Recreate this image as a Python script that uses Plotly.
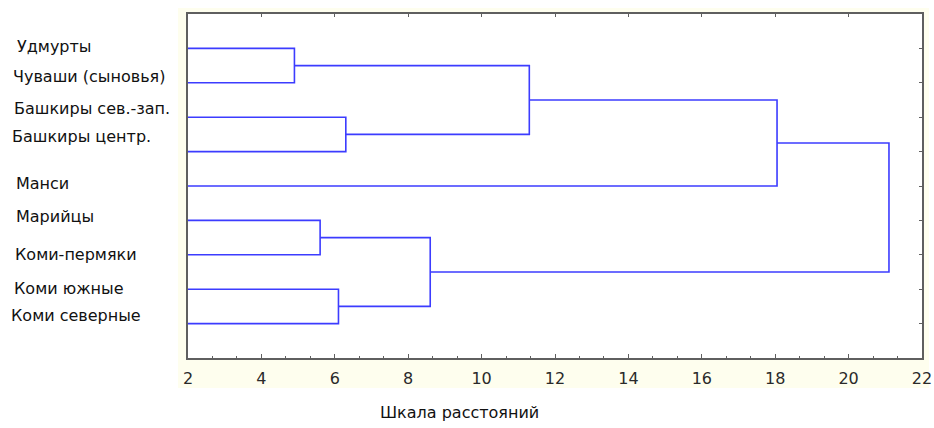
import plotly.graph_objects as go

# ---------------- data ----------------
leaf_labels = [
    "Удмурты",
    "Чуваши (сыновья)",
    "Башкиры сев.-зап.",
    "Башкиры центр.",
    "Манси",
    "Марийцы",
    "Коми-пермяки",
    "Коми южные",
    "Коми северные",
]
# clusters 0..8 are leaves; each merge creates cluster 9, 10, ...
merge_left = [0, 2, 9, 11, 5, 7, 13, 12]
merge_right = [1, 3, 10, 4, 6, 8, 14, 15]
merge_dist = [4.9, 6.3, 11.3, 18.05, 5.6, 6.1, 8.6, 21.1]

x_title = "Шкала расстояний"
x_ticks = [2, 4, 6, 8, 10, 12, 14, 16, 18, 20, 22]

# ---------------- layout / style ----------------
X_MIN, X_MAX = 2, 22
n = len(leaf_labels)
Y_RANGE = [n + 1, 0]
W, H = 934, 428
L, T = 188, 14
R = W - 922
B = H - 358
plot_w = W - L - R
plot_h = H - T - B
LINE_COLOR = "#3c3cff"
FRAME = "#5f5f5f"
FONT = "DejaVu Sans"

# label pixel placement (left edge x in px, vertical shift)
label_x = [15, 11, 12, 10, 14, 14, 13, 12, 9]
label_shift = [2, 6, 9, 15, 3, 4, 0, 1, 8]

# ---------------- dendrogram geometry ----------------
node_x = {i: X_MIN for i in range(n)}
node_y = {i: i + 1 for i in range(n)}
xs, ys = [], []
for k, (a, b, d) in enumerate(zip(merge_left, merge_right, merge_dist)):
    xs += [node_x[a], d, d, node_x[b], None]
    ys += [node_y[a], node_y[a], node_y[b], node_y[b], None]
    node_x[n + k] = d
    node_y[n + k] = (node_y[a] + node_y[b]) / 2

fig = go.Figure()
fig.add_trace(go.Scatter(x=xs, y=ys, mode="lines",
                         line=dict(color=LINE_COLOR, width=1.6),
                         hoverinfo="skip", showlegend=False))
# helper invisible traces for tick-only axes
fig.add_trace(go.Scatter(x=[X_MIN], y=[1], xaxis="x2", yaxis="y",
                         mode="markers", marker=dict(opacity=0),
                         showlegend=False, hoverinfo="skip"))
fig.add_trace(go.Scatter(x=[X_MIN], y=[1], xaxis="x", yaxis="y2",
                         mode="markers", marker=dict(opacity=0),
                         showlegend=False, hoverinfo="skip"))

for lab, px, sh, i in zip(leaf_labels, label_x, label_shift, range(n)):
    fig.add_annotation(text=lab, xref="paper", x=0, xshift=px - L,
                       xanchor="left", yref="y", y=i + 1, yshift=sh,
                       yanchor="middle", showarrow=False,
                       font=dict(family=FONT, size=16, color="#111111"))

fig.add_annotation(text=x_title, xref="paper", x=0, xshift=459 - L,
                   xanchor="center", yref="paper", y=0, yshift=-54,
                   yanchor="middle", showarrow=False,
                   font=dict(family=FONT, size=16, color="#111111"))

# cream panel behind the plot frame
fig.add_shape(type="rect", xref="paper", yref="paper", layer="below",
              x0=(178 - L) / plot_w, x1=(929 - L) / plot_w,
              y0=(T + plot_h - 388) / plot_h,
              y1=(T + plot_h - 8) / plot_h,
              fillcolor="#fefeee", line=dict(width=0))
fig.add_shape(type="rect", xref="x domain", yref="y domain", layer="below",
              x0=0, x1=1, y0=0, y1=1, fillcolor="#ffffff", line=dict(width=0))

fig.update_layout(
    width=W, height=H,
    margin=dict(l=L, r=R, t=T, b=B, autoexpand=False),
    paper_bgcolor="#ffffff", plot_bgcolor="#ffffff",
    font=dict(family=FONT, size=16, color="#333333"),
    xaxis=dict(range=[X_MIN, X_MAX], tickvals=x_ticks, automargin=False,
               ticks="inside", ticklen=4, tickcolor=FRAME, tickwidth=1,
               showline=True, linecolor=FRAME, linewidth=2, mirror=True,
               showgrid=False, zeroline=False,
               tickfont=dict(family=FONT, size=16, color="#2a2a2a"),
               ticklabelstandoff=5,
               minor=dict(dtick=2 / 3, tick0=X_MIN, ticks="inside",
                          ticklen=2, tickcolor=FRAME, showgrid=False)),
    xaxis2=dict(range=[X_MIN, X_MAX], tickvals=x_ticks, overlaying="x",
                side="top", anchor="y", ticks="inside", ticklen=3,
                automargin=False,
                tickcolor=FRAME, showticklabels=False, showgrid=False,
                zeroline=False, showline=False),
    yaxis=dict(range=Y_RANGE, showticklabels=False, ticks="",
               automargin=False,
               showline=True, linecolor=FRAME, linewidth=2, mirror=True,
               showgrid=False, zeroline=False),
    yaxis2=dict(range=Y_RANGE, overlaying="y", side="right", anchor="x",
                automargin=False,
                tickvals=list(range(1, n + 1)), ticks="inside", ticklen=3,
                tickcolor=FRAME, showticklabels=False, showgrid=False,
                zeroline=False, showline=False),
    showlegend=False,
)

fig.write_html(
    "out.html",
    config={"displayModeBar": False, "staticPlot": True},
    post_script="document.body.style.margin='0';"
                "document.body.style.overflow='hidden';",
)
